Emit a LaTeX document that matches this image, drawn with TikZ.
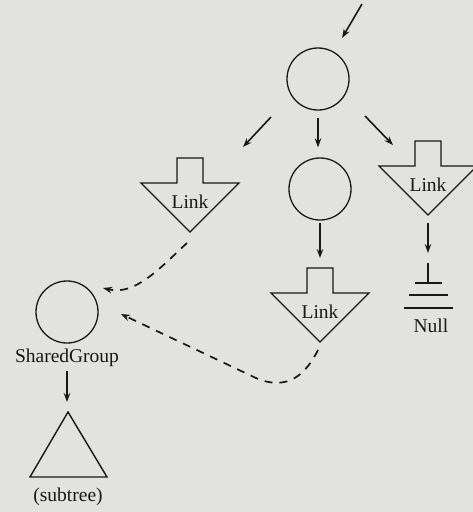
\documentclass[tikz,border=0pt]{standalone}
\usepackage{fontspec}
\setmainfont{Liberation Serif}
\usetikzlibrary{arrows.meta}
\definecolor{bgc}{RGB}{226,227,223}
\definecolor{ink}{RGB}{24,24,24}
\tikzset{
  circ/.style={circle, draw=ink, line width=1.3pt, minimum size=62pt, inner sep=0pt},
  lbl/.style={font=\fontsize{19.5}{22}\selectfont, text=ink, inner sep=0pt},
  conn/.style={draw=ink, line width=1.6pt, -{Stealth[length=9pt,width=6.5pt]}},
  dconn/.style={draw=ink, line width=1.7pt, dash pattern=on 8pt off 7pt, -{Stealth[length=9pt,width=6.5pt]}},
  shape line/.style={draw=ink, line width=1.4pt, line join=miter},
  linkarrow/.pic={
    \draw[shape line] (-13,0) -- (13,0) -- (13,25) -- (49,25) -- (0,74) -- (-49,25) -- (-13,25) -- cycle;
    \node[lbl] (-label) at (0,44) {Link};
    \coordinate (-top) at (0,0);
    \coordinate (-tip) at (0,74);
  }
}
\begin{document}
\begin{tikzpicture}[x=1pt,y=-1pt]
\fill[bgc] (0,0) rectangle (473,512);
\useasboundingbox (0,0) rectangle (473,512);

% circles
\node[circ] (top) at (318,79) {};
\node[circ] (mid) at (320,189) {};
\node[circ] (shared) at (67,312) {};
\node[lbl] (sharedlbl) at (67,358) {SharedGroup};

% link arrows
\pic (L1) at (190,158) {linkarrow};
\pic (L2) at (320,268) {linkarrow};
\pic (L3) at (428,141) {linkarrow};

% incoming arrow
\coordinate (in) at (362,4);
\draw[conn, shorten >=16pt] (in) -- (top);

% arrows out of top circle
\coordinate (a1s) at (271,117);
\coordinate (a1e) at (243,147);
\draw[conn] (a1s) -- (a1e);
\draw[conn, shorten <=7pt, shorten >=10pt] (top.south) -- (top.south |- mid.north);
\coordinate (a3s) at (365,116);
\coordinate (a3e) at (393,145);
\draw[conn] (a3s) -- (a3e);

% middle circle to middle link
\draw[conn, shorten <=2pt, shorten >=10pt] (mid.south) -- (L2-top);

% right link to Null
\coordinate (gtop) at (428,263);
\draw[conn, shorten <=8pt, shorten >=10pt] (L3-tip) -- (gtop);
\draw[shape line, line width=1.7pt] (gtop) -- ++(0,20);
\draw[shape line, line width=1.7pt] (415,283) -- (442,283);
\draw[shape line, line width=1.7pt] (409,295) -- (448,295);
\draw[shape line, line width=1.7pt] (404,308) -- (453,308);
\node[lbl] (null) at (431,326) {Null};

% shared group to subtree
\coordinate (apex) at (68,412);
\draw[conn, shorten <=4pt, shorten >=10pt] (sharedlbl.south) -- (sharedlbl.south |- apex);
\draw[shape line] (apex) -- (107,477) -- (30,477) -- cycle;
\node[lbl] (subtree) at (68,497) {(subtree)};

% dashed references
\coordinate (d1s) at (187,243);
\coordinate (d1e) at (103,288);
\draw[dconn] (d1s) .. controls (160,268) and (135,296) .. (d1e);
\coordinate (d2s) at (318,350);
\coordinate (d2b) at (258,379);
\coordinate (d2e) at (121,314);
\draw[dconn] (d2s) .. controls (302,382) and (282,388) .. (d2b) -- (d2e);
\end{tikzpicture}
\end{document}
